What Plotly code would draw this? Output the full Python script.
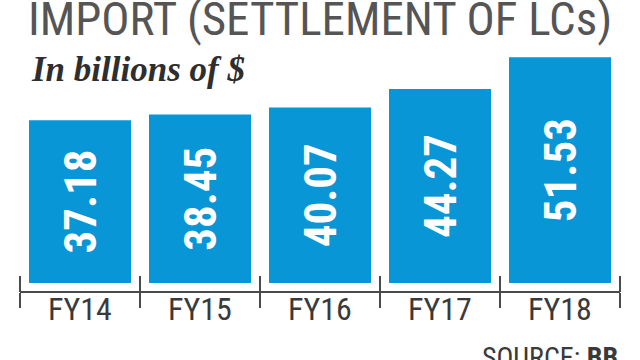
import plotly.graph_objects as go

years = ["FY14", "FY15", "FY16", "FY17", "FY18"]
values = [37.18, 38.45, 40.07, 44.27, 51.53]
labels = ["37.18", "38.45", "40.07", "44.27", "51.53"]

NARROW = "Liberation Sans Narrow, Arial Narrow, Roboto Condensed, sans-serif"
BLUE = "#0996d7"
DARK = "#3a3a3a"
AXIS = "#4a4a4a"

fig = go.Figure()
fig.add_trace(go.Bar(
    x=years, y=values, text=labels,
    marker=dict(color=BLUE, line=dict(width=0)),
    textposition="inside", insidetextanchor="middle", textangle=-90,
    textfont=dict(family=NARROW, size=45, color="white", weight="bold"),
    cliponaxis=False, hoverinfo="skip",
))
# invisible copy on a second axis used only to draw the upper halves of the ticks
fig.add_trace(go.Scatter(
    x=years, y=values, xaxis="x2", mode="markers",
    marker=dict(opacity=0), hoverinfo="skip", showlegend=False,
))

fig.update_layout(
    width=640, height=360,
    margin=dict(l=20, r=20, t=50, b=69, autoexpand=False),
    paper_bgcolor="white", plot_bgcolor="white",
    bargap=0.15, showlegend=False,
    title=dict(
        text="IMPORT (SETTLEMENT OF LCs)",
        xref="container", x=28/640, xanchor="left",
        yref="container", y=0.995, yanchor="top",
        pad=dict(t=0, l=0),
        font=dict(family=NARROW, size=47, color="#555555"),
    ),
    xaxis=dict(
        type="category", categoryorder="array", categoryarray=years,
        range=[-0.5, 4.5], tickson="boundaries", automargin=False,
        ticks="outside", ticklen=15, tickwidth=2, tickcolor=AXIS,
        showline=True, linecolor=AXIS, linewidth=2,
        showgrid=False, zeroline=False,
        tickfont=dict(family=NARROW, size=32, color=DARK),
        ticklabelstandoff=-11,
    ),
    xaxis2=dict(
        type="category", categoryorder="array", categoryarray=years,
        overlaying="x", anchor="free", position=16/241, side="bottom",
        automargin=False, layer="above traces",
        range=[-0.5, 4.5], tickson="boundaries",
        ticks="outside", ticklen=16, tickwidth=2, tickcolor=AXIS,
        showticklabels=False, showline=False, showgrid=False, zeroline=False,
    ),
    yaxis=dict(
        range=[-1.83, 53.2], visible=False, showgrid=False, zeroline=False,
        automargin=False,
    ),
    annotations=[
        dict(
            text="<b><i>In billions of $</i></b>",
            xref="paper", yref="paper", x=(29 - 20) / 600, y=(291 - 69) / 241,
            xanchor="left", yanchor="middle", showarrow=False,
            font=dict(family="Liberation Serif, Times New Roman, serif", size=35, color="#2e2e2e"),
        ),
        dict(
            text="SOURCE: <b>BB</b>",
            xref="paper", yref="paper", x=1.0, y=(291 - 339) / 241,
            xanchor="right", yanchor="top", showarrow=False,
            font=dict(family=NARROW, size=28, color=DARK),
        ),
    ],
)

fig.write_html("out.html", config={"displayModeBar": False},
               post_script="document.body.style.margin='0px';")
